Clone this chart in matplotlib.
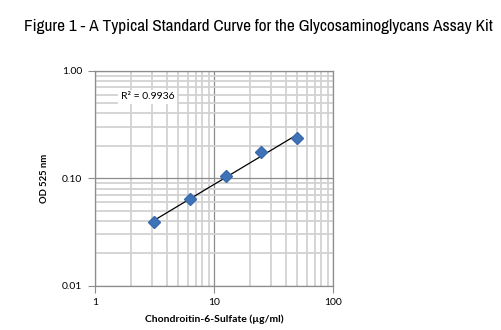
import numpy as np
import matplotlib
matplotlib.use("Agg")
import matplotlib.pyplot as plt
from matplotlib import font_manager
from matplotlib.ticker import LogLocator, FixedLocator, FixedFormatter, NullFormatter

# standard curve data
conc = [3.125, 6.25, 12.5, 25, 50]          # µg/ml
od = [0.039, 0.0636, 0.1055, 0.174, 0.235]   # OD 525 nm
r2_text = "R² = 0.9936"

x_ticks = [1, 10, 100]
x_tick_labels = ["1", "10", "100"]
y_ticks = [0.01, 0.1, 1.0]
y_tick_labels = ["0.01", "0.10", "1.00"]

# prefer a condensed face for the title if one is installed
names = sorted({f.name for f in font_manager.fontManager.ttflist})
narrow = [n for n in names if "Narrow" in n or "Condensed" in n]
title_family = narrow[:1] + ["Liberation Sans", "DejaVu Sans"]
label_family = ["Lato", "DejaVu Sans"]

fig = plt.figure(figsize=(5.02, 3.30), dpi=100)
fig.patch.set_facecolor("white")
ax = fig.add_axes([0.1892, 0.1342, 0.4741, 0.6516])

ax.set_xscale("log")
ax.set_yscale("log")
ax.set_xlim(1, 100)
ax.set_ylim(0.01, 1.0)

# grid: light minor lines, darker major lines
ax.xaxis.set_minor_locator(LogLocator(base=10, subs=np.arange(2, 10)))
ax.yaxis.set_minor_locator(LogLocator(base=10, subs=np.arange(2, 10)))
ax.grid(which="minor", color="#d2d2d2", linewidth=1.3)
ax.grid(which="major", color="#8c8c8c", linewidth=0.9)
ax.set_axisbelow(True)

ax.xaxis.set_major_locator(FixedLocator(x_ticks))
ax.xaxis.set_major_formatter(FixedFormatter(x_tick_labels))
ax.yaxis.set_major_locator(FixedLocator(y_ticks))
ax.yaxis.set_major_formatter(FixedFormatter(y_tick_labels))
ax.xaxis.set_minor_formatter(NullFormatter())
ax.yaxis.set_minor_formatter(NullFormatter())
ax.tick_params(which="major", length=5, width=0.8, color="#8c8c8c",
               labelsize=7.5, pad=4)
ax.tick_params(which="minor", length=0)
for lbl in ax.get_xticklabels() + ax.get_yticklabels():
    lbl.set_family(label_family)

for s in ax.spines.values():
    s.set_color("#8c8c8c")
    s.set_linewidth(0.9)

# power trendline fitted on log scale
k, b = np.polyfit(np.log10(conc), np.log10(od), 1)
xfit = np.array([conc[0], conc[-1]])
ax.plot(xfit, 10 ** (b + k * np.log10(xfit)), color="black", linewidth=0.9, zorder=3)

ax.plot(conc, od, linestyle="none", marker="D", markersize=6.2,
        color="#3f73b8", markeredgecolor="#3a6aab", zorder=4)

ax.text(1.65, 0.57, r2_text, fontsize=7.5, family=label_family,
        va="center", ha="left",
        bbox=dict(facecolor="white", edgecolor="none", pad=2))

ax.set_xlabel("Chondroitin-6-Sulfate (µg/ml)", fontsize=7.5, fontweight="bold",
              family=label_family, labelpad=5)
ax.set_ylabel("OD 525 nm", fontsize=6.8, fontweight="bold", family=label_family)
ax.yaxis.set_label_coords(-0.193, 0.5)

fig.text(0.515, 0.921, "Figure 1 - A Typical Standard Curve for the Glycosaminoglycans Assay Kit",
         ha="center", va="center", fontsize=12.4, family=title_family)

fig.savefig("out.png", dpi=100)
